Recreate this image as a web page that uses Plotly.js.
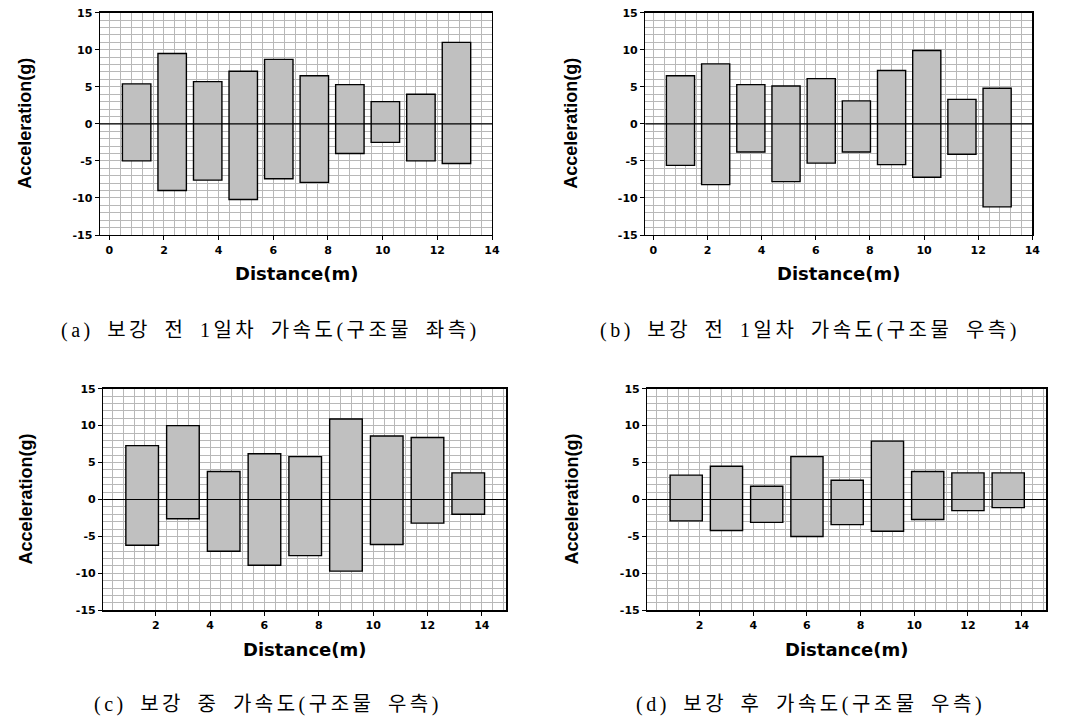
<!DOCTYPE html>
<html>
<head>
<meta charset="utf-8">
<script src="https://cdn.plot.ly/plotly-3.0.1.min.js"></script>
<style>html,body{margin:0;padding:0;background:#fff;}#chart{width:1068px;height:726px;}</style>
</head>
<body>
<div id="chart"></div>
<script>
// Distance positions (m)
const distAB = [1, 2.3, 3.6, 4.9, 6.2, 7.5, 8.8, 10.1, 11.4, 12.7];
const distCD = [1.5, 3, 4.5, 6, 7.5, 9, 10.5, 12, 13.5];

// (a) before reinforcement, day 1, left side
const aMax = [5.4, 9.5, 5.7, 7.1, 8.7, 6.5, 5.3, 3.0, 4.0, 11.0];
const aMin = [-5.0, -9.0, -7.6, -10.2, -7.4, -7.9, -4.0, -2.5, -5.0, -5.35];
// (b) before reinforcement, day 1, right side
const bMax = [6.5, 8.1, 5.3, 5.1, 6.1, 3.1, 7.2, 9.9, 3.3, 4.8];
const bMin = [-5.6, -8.2, -3.8, -7.8, -5.3, -3.8, -5.5, -7.2, -4.1, -11.2];
// (c) during reinforcement, right side
const cMax = [7.3, 10.0, 3.8, 6.2, 5.8, 10.9, 8.6, 8.4, 3.6];
const cMin = [-6.2, -2.6, -7.0, -8.9, -7.6, -9.7, -6.1, -3.2, -2.0];
// (d) after reinforcement, right side
const dMax = [3.3, 4.5, 1.8, 5.8, 2.6, 7.9, 3.8, 3.6, 3.6];
const dMin = [-2.9, -4.2, -3.1, -5.0, -3.4, -4.3, -2.7, -1.5, -1.1];

const xTicksAB = [0, 2, 4, 6, 8, 10, 12, 14];
const xTicksCD = [2, 4, 6, 8, 10, 12, 14];
const yTicks = [-15, -10, -5, 0, 5, 10, 15];
const yTickText = ["-15", "-10", "-5", "0", "5", "10", "15"];

const captions = [
  "(a)\u2002보강\u2002전\u20021일차\u2002가속도(구조물\u2002좌측)",
  "(b)\u2002보강\u2002전\u20021일차\u2002가속도(구조물\u2002우측)",
  "(c)\u2002보강\u2002중\u2002가속도(구조물\u2002우측)",
  "(d)\u2002보강\u2002후\u2002가속도(구조물\u2002우측)"
];
const xTitle = "Distance(m)";
const yTitle = "Acceleration(g)";

const W = 1068, H = 726;
const fx = p => p / W;
const fy = p => 1 - p / H;

const panels = [
  {x: distAB, mx: aMax, mn: aMin, w: 1.04, xr: [-0.34, 14], xt: xTicksAB, px: [100, 492], py: [12.7, 235], yt: 25, cap: [270, 330]},
  {x: distAB, mx: bMax, mn: bMin, w: 1.04, xr: [-0.3, 14], xt: xTicksAB, px: [645.3, 1032.3], py: [12.7, 235], yt: 571, cap: [810, 330]},
  {x: distCD, mx: cMax, mn: cMin, w: 1.2, xr: [0.07, 14.9], xt: xTicksCD, px: [103.3, 506.3], py: [388.7, 610.3], yt: 25, cap: [268, 704]},
  {x: distCD, mx: dMax, mn: dMin, w: 1.2, xr: [0.05, 14.92], xt: xTicksCD, px: [647.3, 1046.3], py: [388.7, 610.3], yt: 571, cap: [810, 704]}
];

const tickFont = {family: "DejaVu Sans", size: 11, color: "#000", weight: "bold"};
const gridC = "#b8b8b8";
const traces = [];
const layout = {
  width: W, height: H,
  margin: {l: 0, r: 0, t: 0, b: 0},
  paper_bgcolor: "#fff", plot_bgcolor: "#fff",
  showlegend: false, bargap: 0,
  annotations: [], shapes: []
};

panels.forEach((p, i) => {
  const n = i + 1;
  const xa = n === 1 ? "x" : "x" + n;
  const ya = n === 1 ? "y" : "y" + n;
  traces.push({
    type: "bar",
    x: p.x,
    y: p.mx.map((v, k) => v - p.mn[k]),
    base: p.mn,
    width: p.w,
    xaxis: xa, yaxis: ya,
    marker: {color: "#c0c0c0", line: {color: "#000", width: 1.4}},
    hoverinfo: "skip"
  });
  layout["xaxis" + (n === 1 ? "" : n)] = {
    domain: [fx(p.px[0]), fx(p.px[1])],
    anchor: ya, range: p.xr, fixedrange: true,
    tickmode: "array", tickvals: p.xt,
    ticks: "outside", ticklen: 4, tickwidth: 1, tickcolor: "#000",
    tickfont: tickFont,
    showline: true, mirror: true, linecolor: "#000", linewidth: 1.4,
    showgrid: true, gridcolor: gridC, gridwidth: 1,
    zeroline: false,
    minor: {tick0: 0, dtick: 0.4, showgrid: true, gridcolor: gridC, gridwidth: 1, ticks: ""}
  };
  layout["yaxis" + (n === 1 ? "" : n)] = {
    domain: [fy(p.py[1]), fy(p.py[0])],
    anchor: xa, range: [-15, 15], fixedrange: true,
    tickmode: "array", tickvals: yTicks, ticktext: yTickText,
    ticks: "outside", ticklen: 4, tickwidth: 1, tickcolor: "#000",
    tickfont: tickFont,
    showline: true, mirror: true, linecolor: "#000", linewidth: 1.4,
    showgrid: true, gridcolor: gridC, gridwidth: 1,
    zeroline: false,
    minor: {tick0: 0, dtick: 1, showgrid: true, gridcolor: gridC, gridwidth: 1, ticks: ""}
  };
  layout.shapes.push({
    type: "line", layer: "above",
    xref: xa + " domain", yref: ya,
    x0: 0, x1: 1, y0: 0, y1: 0,
    line: {color: "#000", width: 1.2}
  });
  layout.annotations.push({
    text: xTitle, showarrow: false,
    xref: "paper", yref: "paper",
    x: fx((p.px[0] + p.px[1]) / 2), y: fy(p.py[1] + 39),
    xanchor: "center", yanchor: "middle",
    font: {family: "DejaVu Sans", size: 18, color: "#000", weight: "bold"}
  });
  layout.annotations.push({
    text: yTitle, showarrow: false, textangle: -90,
    xref: "paper", yref: "paper",
    x: fx(p.yt), y: fy((p.py[0] + p.py[1]) / 2),
    xanchor: "center", yanchor: "middle",
    font: {family: "Liberation Sans", size: 18, color: "#000", weight: "bold"}
  });
  layout.annotations.push({
    text: captions[i], showarrow: false,
    xref: "paper", yref: "paper",
    x: fx(p.cap[0]), y: fy(p.cap[1]),
    xanchor: "center", yanchor: "middle",
    font: {family: "Liberation Serif, 'Noto Sans CJK KR'", size: 20, color: "#000"}
  });
});

Plotly.newPlot("chart", traces, layout, {displayModeBar: false, staticPlot: true}).then(() => {
  document.querySelectorAll("#chart .annotation-text").forEach(t => {
    if (captions.indexOf(t.textContent) >= 0) {
      t.style.letterSpacing = "3.5px";
    }
  });
});
</script>
</body>
</html>
